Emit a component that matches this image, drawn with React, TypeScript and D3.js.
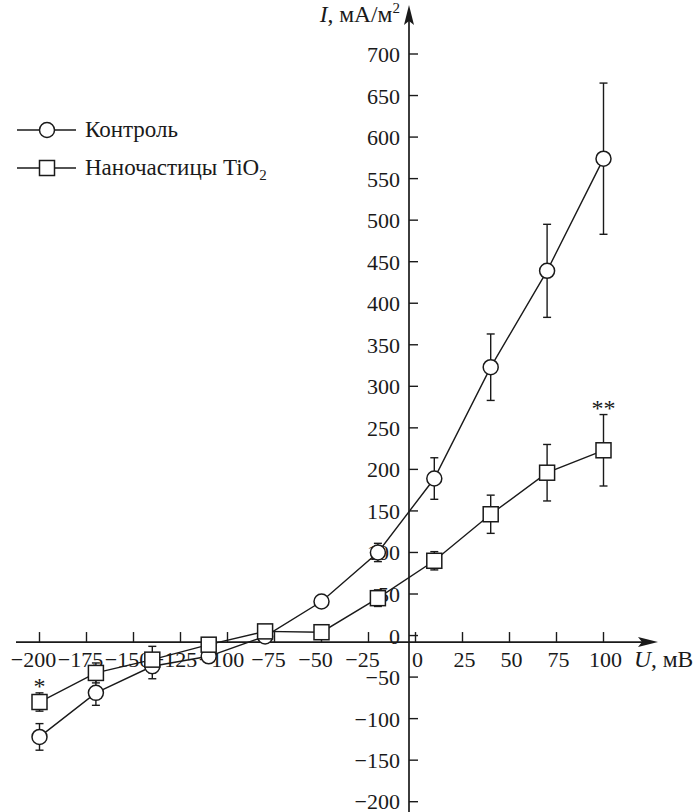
import React, { useEffect, useRef } from 'react';
import * as d3 from 'd3';

const voltages = [-200, -170, -140, -110, -80, -50, -20, 10, 40, 70, 100];
const controlValues = [-122, -69, -37, -25, -1, 41, 100, 189, 323, 439, 574];
const controlErrors = [16, 15, 15, 0, 0, 0, 11, 25, 40, 56, 91];
const nanoValues = [-80, -45, -29, -11, 5, 4, 45, 90, 146, 196, 223];
const nanoErrors = [11, 12, 16, 0, 0, 0, 10, 11, 23, 34, 43];

const xTicks = [-200, -175, -150, -125, -100, -75, -50, -25, 0, 25, 50, 75, 100];
const yTicks = [-200, -150, -100, -50, 0, 50, 100, 150, 200, 250, 300, 350, 400, 450, 500, 550, 600, 650, 700];

const W = 695;
const H = 812;
const FONT = '"Liberation Serif", "Times New Roman", serif';
const INK = '#1a1a1a';

const fmt = (v: number) => (v < 0 ? '\u2212' + Math.abs(v) : String(v));

const App = () => {
  const ref = useRef<SVGSVGElement | null>(null);

  useEffect(() => {
    if (!ref.current) return;
    const svg = d3.select(ref.current);
    svg.selectAll('*').remove();

    const x = d3.scaleLinear().domain([-200, 100]).range([39.5, 603.5]);
    const y = d3.scaleLinear().domain([-200, 700]).range([801.7, 54]);

    // axes sit slightly off the zero of the scales, as in the figure
    const axisX = x(0) - 6.5;
    const axisY = y(0) + 6.5;

    const g = svg.append('g');

    // x axis line + arrow
    g.append('line')
      .attr('x1', 16).attr('x2', 645)
      .attr('y1', axisY).attr('y2', axisY)
      .attr('stroke', INK).attr('stroke-width', 1.7);
    g.append('path')
      .attr('d', `M${658},${axisY} L${638},${axisY - 5} L${642},${axisY} L${638},${axisY + 5} Z`)
      .attr('fill', INK);

    // y axis line + arrow
    g.append('line')
      .attr('x1', axisX).attr('x2', axisX)
      .attr('y1', H).attr('y2', 18)
      .attr('stroke', INK).attr('stroke-width', 1.7);
    g.append('path')
      .attr('d', `M${axisX},5 L${axisX - 5},25 L${axisX},21 L${axisX + 5},25 Z`)
      .attr('fill', INK);

    // x ticks
    g.selectAll('.xtick')
      .data(xTicks)
      .enter()
      .append('line')
      .attr('x1', d => x(d)).attr('x2', d => x(d))
      .attr('y1', axisY).attr('y2', axisY - 10)
      .attr('stroke', INK).attr('stroke-width', 1.4);

    g.selectAll('.xlabel')
      .data(xTicks)
      .enter()
      .append('text')
      .attr('x', d => x(d) + (d < 0 ? -6 : 2))
      .attr('y', 667)
      .attr('text-anchor', 'middle')
      .attr('font-family', FONT)
      .attr('font-size', '22px')
      .attr('fill', INK)
      .text(d => fmt(d));

    // y ticks
    g.selectAll('.ytick')
      .data(yTicks)
      .enter()
      .append('line')
      .attr('x1', axisX).attr('x2', axisX + 9)
      .attr('y1', d => y(d)).attr('y2', d => y(d))
      .attr('stroke', INK).attr('stroke-width', 1.4);

    g.selectAll('.ylabel')
      .data(yTicks)
      .enter()
      .append('text')
      .attr('x', axisX - 9)
      .attr('y', d => Math.min(y(d) + 8, 809))
      .attr('text-anchor', 'end')
      .attr('font-family', FONT)
      .attr('font-size', '22px')
      .attr('fill', INK)
      .text(d => fmt(d));

    // axis titles
    const yTitle = g.append('text')
      .attr('x', axisX - 9)
      .attr('y', 22)
      .attr('text-anchor', 'end')
      .attr('font-family', FONT)
      .attr('font-size', '23.5px')
      .attr('fill', INK);
    yTitle.append('tspan').attr('font-style', 'italic').text('I');
    yTitle.append('tspan').text(', мА/м');
    yTitle.append('tspan').attr('font-size', '15px').attr('dy', -9).text('2');

    const xTitle = g.append('text')
      .attr('x', 634)
      .attr('y', 667)
      .attr('font-family', FONT)
      .attr('font-size', '23.5px')
      .attr('fill', INK);
    xTitle.append('tspan').attr('font-style', 'italic').text('U');
    xTitle.append('tspan').text(', мВ');

    const series = [
      { values: controlValues, errors: controlErrors, shape: 'circle' },
      { values: nanoValues, errors: nanoErrors, shape: 'square' }
    ];

    // error bars
    series.forEach(s => {
      voltages.forEach((v, i) => {
        const e = s.errors[i];
        if (!e) return;
        const cx = x(v);
        const top = y(s.values[i] + e);
        const bot = y(s.values[i] - e);
        g.append('line').attr('x1', cx).attr('x2', cx).attr('y1', top).attr('y2', bot)
          .attr('stroke', INK).attr('stroke-width', 1.4);
        [top, bot].forEach(yy => {
          g.append('line').attr('x1', cx - 4).attr('x2', cx + 4).attr('y1', yy).attr('y2', yy)
            .attr('stroke', INK).attr('stroke-width', 1.4);
        });
      });
    });

    const line = d3.line<number>()
      .x((_, i) => x(voltages[i]))
      .y(d => y(d));

    series.forEach(s => {
      g.append('path')
        .datum(s.values)
        .attr('fill', 'none')
        .attr('stroke', INK)
        .attr('stroke-width', 1.4)
        .attr('d', line);
    });

    // markers
    series.forEach(s => {
      s.values.forEach((val, i) => {
        if (s.shape === 'circle') {
          g.append('circle')
            .attr('cx', x(voltages[i])).attr('cy', y(val)).attr('r', 7.5)
            .attr('fill', '#fff').attr('stroke', INK).attr('stroke-width', 1.5);
        } else {
          g.append('rect')
            .attr('x', x(voltages[i]) - 7.5).attr('y', y(val) - 7.5)
            .attr('width', 15).attr('height', 15)
            .attr('fill', '#fff').attr('stroke', INK).attr('stroke-width', 1.5);
        }
      });
    });

    // significance marks
    const marks = [
      { i: 0, text: '*' },
      { i: 10, text: '**' }
    ];
    marks.forEach(m => {
      g.append('text')
        .attr('x', x(voltages[m.i]))
        .attr('y', y(nanoValues[m.i] + nanoErrors[m.i]) + 1)
        .attr('text-anchor', 'middle')
        .attr('font-family', FONT)
        .attr('font-size', '24px')
        .attr('fill', INK)
        .text(m.text);
    });

    // legend
    const legendItems = [
      { label: 'Контроль', shape: 'circle' },
      { label: 'Наночастицы TiO', shape: 'square', sub: '2' }
    ];
    legendItems.forEach((item, i) => {
      const row = g.append('g').attr('transform', `translate(0, ${130 + i * 38})`);
      row.append('line').attr('x1', 17).attr('x2', 76).attr('y1', 0).attr('y2', 0)
        .attr('stroke', INK).attr('stroke-width', 1.5);
      if (item.shape === 'circle') {
        row.append('circle').attr('cx', 47).attr('cy', 0).attr('r', 7.5)
          .attr('fill', '#fff').attr('stroke', INK).attr('stroke-width', 1.5);
      } else {
        row.append('rect').attr('x', 39.5).attr('y', -7.5).attr('width', 15).attr('height', 15)
          .attr('fill', '#fff').attr('stroke', INK).attr('stroke-width', 1.5);
      }
      const t = row.append('text')
        .attr('x', 85).attr('y', 7)
        .attr('font-family', FONT)
        .attr('font-size', '23px')
        .attr('fill', INK)
        .text(item.label);
      if (item.sub) {
        t.append('tspan').attr('font-size', '15px').attr('dy', 5).text(item.sub);
      }
    });
  }, []);

  return (
    <div style={{ position: 'absolute', left: 0, top: 0, width: W, height: H, background: '#fff' }}>
      <svg ref={ref} width={W} height={H} />
    </div>
  );
};

export default App;
